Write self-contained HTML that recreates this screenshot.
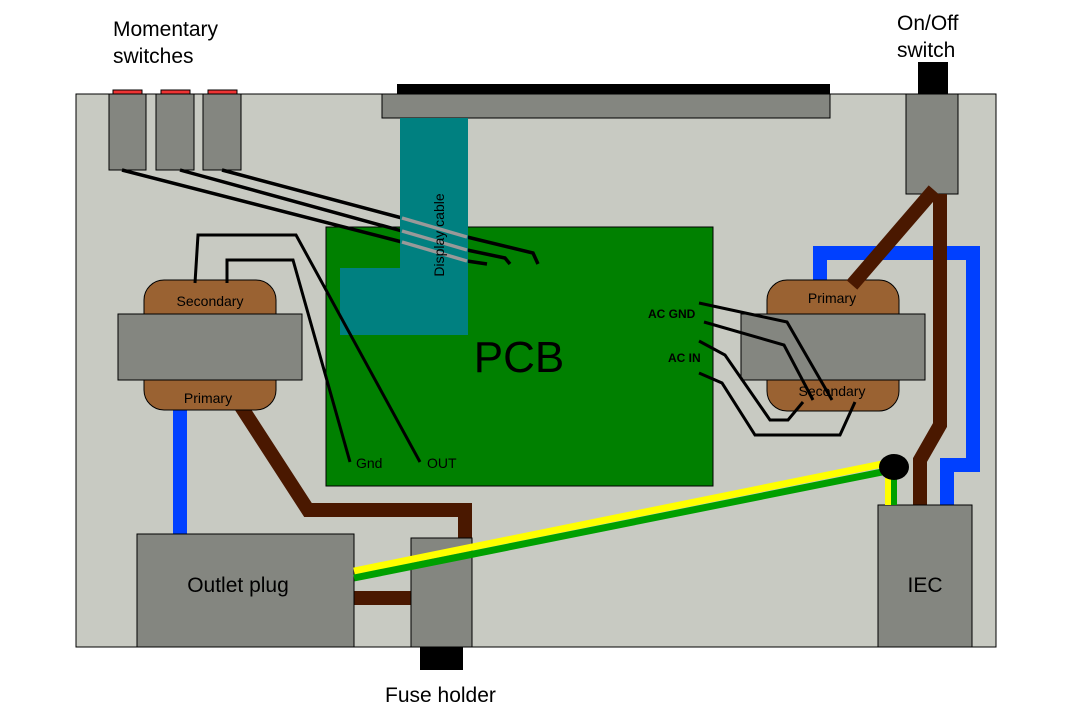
<!DOCTYPE html>
<html><head><style>body{margin:0;background:#fff}svg{display:block}</style></head><body>
<svg width="1068" height="720" xmlns="http://www.w3.org/2000/svg" font-family="Liberation Sans, sans-serif">
<rect x="76" y="94" width="920" height="553" fill="#c8cac2" stroke="#000" stroke-width="1"/>
<g fill="#ee3333" stroke="#000" stroke-width="1"><rect x="113" y="90" width="29" height="4"/><rect x="161" y="90" width="29" height="4"/><rect x="208" y="90" width="29" height="4"/></g>
<g fill="#848680" stroke="#000" stroke-width="1"><rect x="109" y="94" width="37" height="76"/><rect x="156" y="94" width="38" height="76"/><rect x="203" y="94" width="38" height="76"/></g>
<rect x="397" y="84" width="433" height="10" fill="#000"/>
<rect x="382" y="94" width="448" height="24" fill="#848680" stroke="#000"/>
<rect x="326" y="227" width="387" height="259" fill="#008000" stroke="#000"/>
<g stroke="#000" stroke-width="3.5" fill="none">
<path d="M122 170L402 242"/><path d="M467 261L487 264"/>
<path d="M180 170L402 231"/><path d="M467 250L505 258L510 264"/>
<path d="M222 170L402 218"/><path d="M467 237L533 253L538 264"/>
</g>
<path d="M400 118H468V335H340V268H400Z" fill="#008080"/>
<g stroke="#999" stroke-width="3.5" fill="none"><path d="M402 218L467 237"/><path d="M402 231L467 250"/><path d="M402 242L467 261"/></g>
<text x="444" y="235" font-size="14" transform="rotate(-90 444 235)" text-anchor="middle">Display cable</text>
<text x="519" y="372" font-size="44" text-anchor="middle">PCB</text>
<g fill="none" stroke-width="14">
<path d="M180 400V534" stroke="#0040ff"/>
<path d="M820 298V253H973V465H947V505" stroke="#0040ff"/>
<path d="M240 405L308 510H465V538" stroke="#4a1800"/>
</g>
<rect x="144" y="280" width="132" height="130" rx="20" fill="#9a6232" stroke="#000"/>
<rect x="118" y="314" width="184" height="66" fill="#848680" stroke="#000"/>
<text x="210" y="306" font-size="14" text-anchor="middle">Secondary</text>
<text x="208" y="403" font-size="14" text-anchor="middle">Primary</text>
<rect x="767" y="280" width="132" height="131" rx="20" fill="#9a6232" stroke="#000"/>
<rect x="741" y="314" width="184" height="66" fill="#848680" stroke="#000"/>
<text x="832" y="303" font-size="14" text-anchor="middle">Primary</text>
<text x="832" y="396" font-size="14" text-anchor="middle">Secondary</text>
<g stroke="#000" stroke-width="3" fill="none">
<path d="M195 283L198 235H296L420 462"/>
<path d="M227 283V260H293L350 462"/>
<path d="M699 303L787 322L832 400"/>
<path d="M704 322L784 345L813 400"/>
<path d="M699 341L725 355L770 420H788L803 402"/>
<path d="M699 373L722 383L755 435H840L855 402"/>
</g>
<text x="356" y="468" font-size="14">Gnd</text>
<text x="427" y="468" font-size="14">OUT</text>
<text x="648" y="318" font-size="12" font-weight="bold">AC GND</text>
<text x="668" y="362" font-size="12" font-weight="bold">AC IN</text>
<rect x="918" y="62" width="30" height="32" fill="#000"/>
<rect x="906" y="94" width="52" height="100" fill="#848680" stroke="#000"/>
<g fill="none" stroke-width="14">
<path d="M354 598H411" stroke="#4a1800"/>
<path d="M940 194V425L920 460V505" stroke="#4a1800"/>
<path d="M934 190L852 285" stroke="#4a1800"/>
</g>
<rect x="137" y="534" width="217" height="113" fill="#848680" stroke="#000"/>
<text x="238" y="592" font-size="21" text-anchor="middle">Outlet plug</text>
<rect x="411" y="538" width="61" height="109" fill="#848680" stroke="#000"/>
<rect x="420" y="647" width="43" height="23" fill="#000"/>
<rect x="878" y="505" width="94" height="142" fill="#848680" stroke="#000"/>
<text x="925" y="592" font-size="21" text-anchor="middle">IEC</text>
<path d="M354 571L892 462" stroke="#ffff00" stroke-width="7"/>
<path d="M354 578L892 470" stroke="#00a000" stroke-width="7"/>
<path d="M888 470V505" stroke="#ffff00" stroke-width="6"/>
<path d="M894 470V505" stroke="#00a000" stroke-width="6"/>
<ellipse cx="894" cy="467" rx="15" ry="13" fill="#000"/>
<text x="113" y="36" font-size="21">Momentary</text>
<text x="113" y="63" font-size="21">switches</text>
<text x="897" y="30" font-size="21">On/Off</text>
<text x="897" y="57" font-size="21">switch</text>
<text x="385" y="702" font-size="21">Fuse holder</text>
</svg>
</body></html>
